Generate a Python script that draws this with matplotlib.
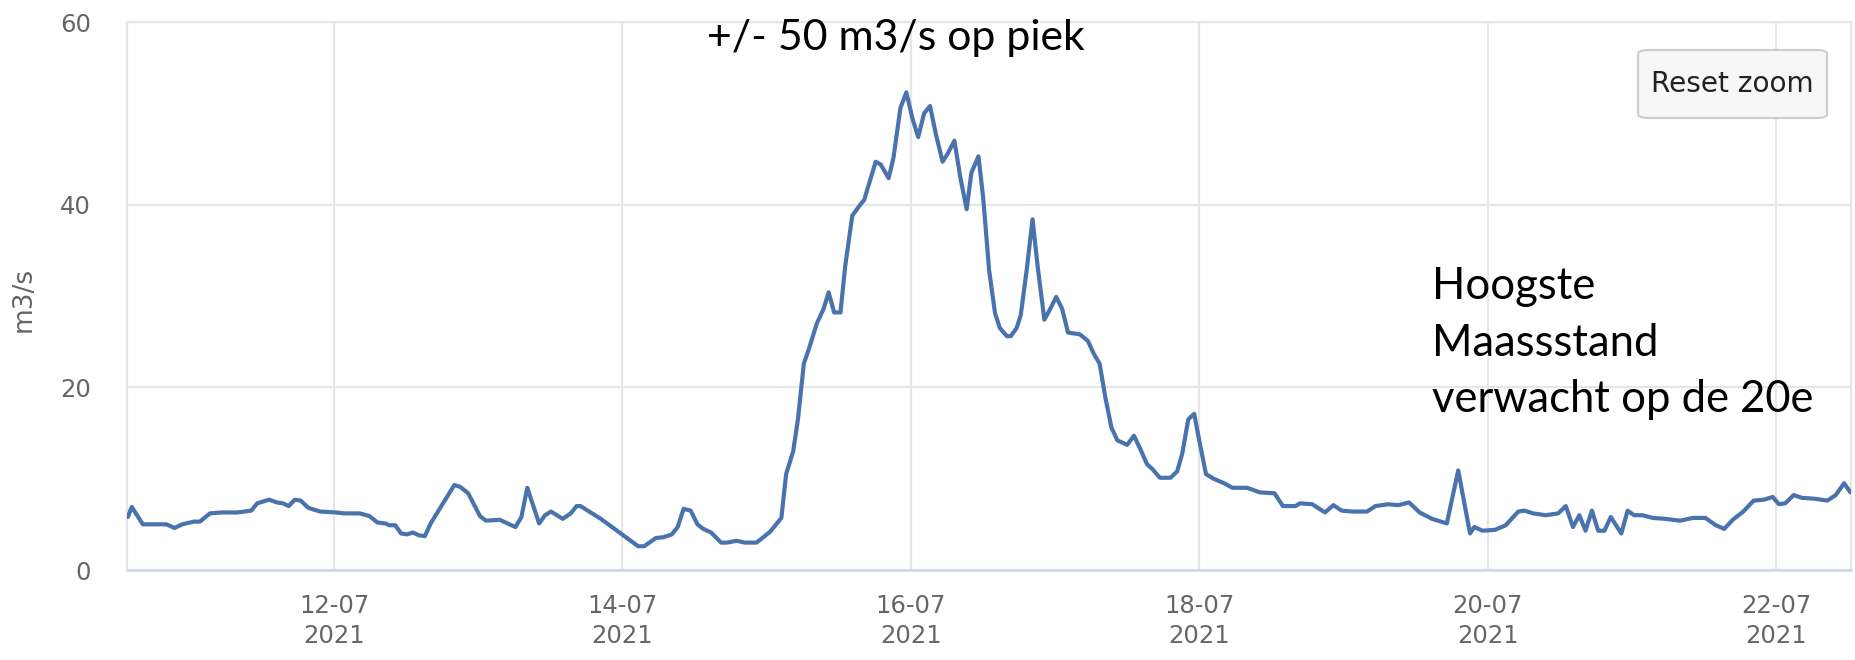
import matplotlib
matplotlib.use("Agg")
import matplotlib.pyplot as plt
import matplotlib.dates as mdates
from matplotlib.patches import FancyBboxPatch
import pandas as pd
import numpy as np

# ---------------- data ----------------
base_date = "2021-07-12"
# time offsets in days relative to 12-07-2021 00:00
day_offsets = [
    -1.430, -1.403, -1.326, -1.217, -1.162, -1.107, -1.053, -0.971, -0.930, -0.861,
    -0.779, -0.670, -0.574, -0.533, -0.451, -0.397, -0.355, -0.314, -0.273, -0.232,
    -0.178, -0.096, 0.014, 0.068, 0.178, 0.246, 0.301, 0.355, 0.383, 0.424,
    0.465, 0.506, 0.547, 0.588, 0.629, 0.670, 0.834, 0.875, 0.930, 1.012,
    1.053, 1.148, 1.203, 1.258, 1.299, 1.340, 1.422, 1.463, 1.504, 1.586,
    1.641, 1.682, 1.709, 1.850, 2.109, 2.150, 2.232, 2.287, 2.342, 2.383,
    2.424, 2.473, 2.520, 2.561, 2.615, 2.684, 2.725, 2.793, 2.848, 2.930,
    3.025, 3.102, 3.135, 3.184, 3.217, 3.258, 3.293, 3.348, 3.395, 3.430,
    3.468, 3.512, 3.545, 3.594, 3.654, 3.676, 3.756, 3.791, 3.846, 3.879,
    3.928, 3.969, 4.010, 4.051, 4.092, 4.133, 4.174, 4.220, 4.256, 4.302,
    4.343, 4.387, 4.420, 4.469, 4.502, 4.543, 4.584, 4.617, 4.666, 4.693,
    4.734, 4.762, 4.803, 4.844, 4.879, 4.926, 4.967, 5.008, 5.049, 5.090,
    5.131, 5.172, 5.227, 5.268, 5.309, 5.350, 5.391, 5.432, 5.500, 5.547,
    5.590, 5.637, 5.678, 5.727, 5.801, 5.847, 5.883, 5.924, 5.965, 6.006,
    6.047, 6.099, 6.172, 6.230, 6.332, 6.420, 6.522, 6.580, 6.668, 6.697,
    6.784, 6.872, 6.930, 6.988, 7.061, 7.163, 7.222, 7.309, 7.382, 7.455,
    7.528, 7.615, 7.717, 7.796, 7.878, 7.907, 7.965, 8.052, 8.125, 8.213,
    8.257, 8.315, 8.402, 8.490, 8.542, 8.592, 8.636, 8.679, 8.723, 8.767,
    8.810, 8.854, 8.927, 8.971, 9.015, 9.073, 9.146, 9.233, 9.335, 9.423,
    9.510, 9.583, 9.641, 9.700, 9.773, 9.845, 9.918, 9.977, 10.020, 10.064,
    10.122, 10.181, 10.268, 10.356, 10.414, 10.472, 10.516,
]
discharge = [
    5.8, 6.9, 5.0, 5.0, 5.0, 4.6, 5.0, 5.3, 5.3, 6.2,
    6.3, 6.3, 6.5, 7.3, 7.7, 7.4, 7.3, 7.0, 7.7, 7.6,
    6.8, 6.4, 6.3, 6.2, 6.2, 5.9, 5.2, 5.1, 4.9, 4.9,
    4.0, 3.9, 4.1, 3.8, 3.7, 5.1, 9.3, 9.1, 8.4, 5.9,
    5.4, 5.5, 5.1, 4.7, 5.8, 9.0, 5.1, 6.0, 6.4, 5.6,
    6.2, 7.0, 7.0, 5.6, 2.6, 2.6, 3.5, 3.6, 3.9, 4.7,
    6.7, 6.5, 5.0, 4.5, 4.1, 3.0, 3.0, 3.2, 3.0, 3.0,
    4.2, 5.7, 10.5, 13.0, 16.5, 22.6, 24.2, 27.0, 28.6, 30.4,
    28.2, 28.2, 33.3, 38.8, 40.1, 40.5, 44.7, 44.4, 42.9, 45.1,
    50.6, 52.3, 49.5, 47.4, 50.0, 50.8, 47.7, 44.7, 45.6, 47.0,
    43.0, 39.5, 43.5, 45.3, 40.7, 32.8, 28.1, 26.5, 25.6, 25.6,
    26.5, 27.9, 32.8, 38.4, 33.3, 27.4, 28.6, 29.9, 28.6, 26.0,
    25.9, 25.8, 25.1, 23.7, 22.6, 18.8, 15.6, 14.2, 13.7, 14.7,
    13.3, 11.6, 11.0, 10.1, 10.1, 10.8, 12.8, 16.5, 17.1, 13.7,
    10.5, 10.0, 9.5, 9.0, 9.0, 8.5, 8.4, 7.0, 7.0, 7.3,
    7.2, 6.3, 7.1, 6.5, 6.4, 6.4, 7.0, 7.2, 7.1, 7.4,
    6.3, 5.6, 5.1, 10.9, 4.0, 4.7, 4.3, 4.4, 4.9, 6.4,
    6.5, 6.2, 6.0, 6.2, 7.0, 4.7, 6.0, 4.3, 6.5, 4.3,
    4.3, 5.8, 4.0, 6.5, 6.0, 6.0, 5.7, 5.6, 5.4, 5.7,
    5.7, 4.9, 4.5, 5.5, 6.4, 7.6, 7.7, 8.0, 7.2, 7.3,
    8.2, 7.9, 7.8, 7.6, 8.2, 9.5, 8.5,
]
x_start_offset = -1.436
x_end_offset = 10.52
y_ticks = [0, 20, 40, 60]
y_label = "m3/s"
peak_note = "+/- 50 m3/s op piek"
forecast_note = ["Hoogste", "Maassstand", "verwacht op de 20e"]
button_label = "Reset zoom"

# ---------------- figure ----------------
W, H = 1855, 660
fig = plt.figure(figsize=(W / 100, H / 100), dpi=100)
fig.patch.set_facecolor("white")
ax = fig.add_axes([127 / W, 1 - 570 / H, (1851 - 127) / W, (570 - 22) / H])

t0 = pd.Timestamp(base_date)
times = t0 + pd.to_timedelta(np.array(day_offsets), unit="D")
ax.plot(times, discharge, color="#4a73ad", lw=3.0, solid_joinstyle="round",
        solid_capstyle="round", zorder=3)

ax.set_xlim(t0 + pd.Timedelta(days=x_start_offset), t0 + pd.Timedelta(days=x_end_offset))
ax.set_ylim(0, 60)
ax.set_yticks(y_ticks)
ax.xaxis.set_major_locator(mdates.DayLocator(bymonthday=[12, 14, 16, 18, 20, 22]))
ax.xaxis.set_major_formatter(mdates.DateFormatter("%d-%m\n%Y"))

ax.grid(True, color="#e6e6e6", lw=1.6, zorder=0)
ax.set_axisbelow(True)
for s in ["left", "right", "top"]:
    ax.spines[s].set_color("#e6e6e6")
    ax.spines[s].set_linewidth(1.6)
ax.spines["bottom"].set_color("#ccd6eb")
ax.spines["bottom"].set_linewidth(1.8)

ax.tick_params(axis="both", length=0, labelcolor="#666666", labelsize=17.5)
ax.tick_params(axis="y", pad=26)
ax.tick_params(axis="x", pad=17)
for lbl in ax.get_xticklabels():
    lbl.set_linespacing(1.35)

fig.text(24 / W, 1 - 299 / H, y_label, rotation=90, ha="center", va="center",
         color="#666666", fontsize=19)

# annotations
t_peak = fig.text(707 / W, 1 - 50 / H, peak_note, ha="left", va="baseline",
                  fontsize=27, family="Lato", color="black")
note_baselines = [299, 356, 412]
t_notes = [fig.text(1432 / W, 1 - yb / H, s, ha="left", va="baseline",
                    fontsize=28, family="Lato", color="black")
           for s, yb in zip(forecast_note, note_baselines)]

# reset zoom button
bx0, bx1, by0, by1 = 1638, 1827, 50, 118
btn = FancyBboxPatch((bx0 / W, 1 - by1 / H), (bx1 - bx0) / W, (by1 - by0) / H,
                     boxstyle="round,pad=0,rounding_size=0.006",
                     transform=fig.transFigure, facecolor="#f7f7f7",
                     edgecolor="#cccccc", lw=1.5, zorder=5)
fig.patches.append(btn)
t_btn = fig.text((bx0 + bx1) / 2 / W, 1 - 84 / H, button_label, ha="center",
                 va="center", fontsize=19, color="#222222", zorder=6)

# fit text widths to reference
fig.canvas.draw()
r = fig.canvas.get_renderer()
def fit(t, target):
    w = t.get_window_extent(r).width
    t.set_fontsize(t.get_fontsize() * target / w)
fit(t_peak, 379)
fit(t_notes[2], 382)
for t in t_notes[:2]:
    t.set_fontsize(t_notes[2].get_fontsize())
fit(t_btn, 163)

fig.savefig("out.png", dpi=100, facecolor="white")
